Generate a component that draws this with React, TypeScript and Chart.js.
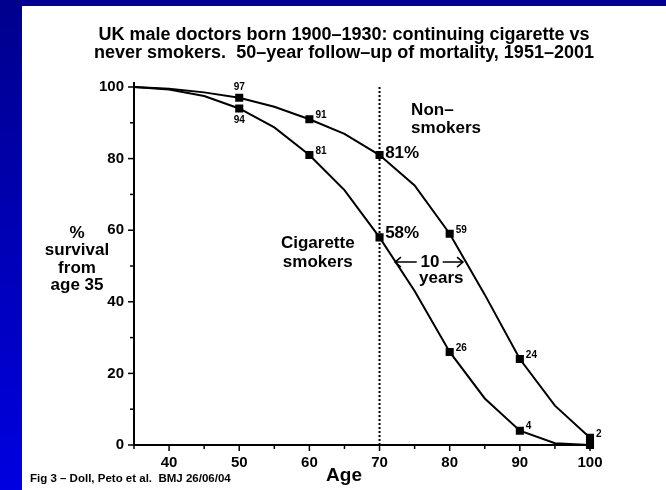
import { useEffect, useRef } from 'react';
import { Chart, registerables } from 'chart.js';

Chart.register(...registerables);

// ---- data ----
const ages = [35, 40, 45, 50, 55, 60, 65, 70, 75, 80, 85, 90, 95, 100];
const nonSmokers = [100, 99.5, 98.5, 97, 94.5, 91, 86.9, 81, 72.5, 59, 42, 24, 11, 2];
const smokers = [100, 99.3, 97.5, 94, 88.7, 81, 71.2, 58, 43, 26, 13, 4, 0.5, 0];
const nonSmokerLabels = ['', '', '', '97', '', '91', '', '', '', '59', '', '24', '', '2'];
const smokerLabels = ['', '', '', '94', '', '81', '', '', '', '26', '', '4', '', ''];
const markedAges = [50, 60, 70, 80, 90, 100];
const xTickValues = [40, 50, 60, 70, 80, 90, 100];
const yTickValues = [0, 20, 40, 60, 80, 100];
const referenceAge = 70;

const titleLines = [
  'UK male doctors born 1900\u20131930: continuing cigarette vs',
  'never smokers.  50\u2013year follow\u2013up of mortality, 1951\u20132001',
];
const yTitleLines = ['%', 'survival', 'from', 'age 35'];
const xTitle = 'Age';
const footnote = 'Fig 3 \u2013 Doll, Peto et al.  BMJ 26/06/04';

const FONT = '"Liberation Sans", Arial, Helvetica, sans-serif';

const annotations = [
  { text: 'Non\u2013', x: 74.5, y: 93.6, align: 'left' },
  { text: 'smokers', x: 74.5, y: 88.5, align: 'left' },
  { text: 'Cigarette', x: 61.2, y: 56.4, align: 'center' },
  { text: 'smokers', x: 61.2, y: 51.1, align: 'center' },
  { text: '81%', x: 70.8, y: 81.6, align: 'left' },
  { text: '58%', x: 70.8, y: 59.2, align: 'left' },
  { text: '10', x: 77.2, y: 51.1, align: 'center' },
  { text: 'years', x: 78.8, y: 46.6, align: 'center' },
];

const decorPlugin = {
  id: 'decor',
  beforeDraw(chart: any) {
    const { ctx, width, height } = chart;
    ctx.save();
    ctx.fillStyle = '#ffffff';
    ctx.fillRect(0, 0, width, height);
    ctx.fillStyle = '#00008f';
    ctx.fillRect(0, 0, width, 6);
    const g = ctx.createLinearGradient(0, 0, 0, height);
    g.addColorStop(0, '#00008c');
    g.addColorStop(1, '#0000e0');
    ctx.fillStyle = g;
    ctx.fillRect(0, 0, 22, height);
    ctx.restore();
  },
  beforeDatasetsDraw(chart: any) {
    const { ctx } = chart;
    const xs = chart.scales.x;
    const ys = chart.scales.y;
    ctx.save();
    ctx.strokeStyle = '#000';
    // dotted reference line
    ctx.lineWidth = 2;
    ctx.setLineDash([2, 2]);
    const px = xs.getPixelForValue(referenceAge);
    ctx.beginPath();
    ctx.moveTo(px, ys.getPixelForValue(100));
    ctx.lineTo(px, ys.getPixelForValue(0));
    ctx.stroke();
    ctx.setLineDash([]);
    // tick marks
    ctx.lineWidth = 1.5;
    const left = chart.chartArea.left;
    const bottom = chart.chartArea.bottom;
    for (let v = 0; v <= 100; v += 10) {
      const py = ys.getPixelForValue(v);
      const len = v % 20 === 0 ? 6 : 4;
      ctx.beginPath();
      ctx.moveTo(left - len, py);
      ctx.lineTo(left, py);
      ctx.stroke();
    }
    for (let v = 35; v <= 100; v += 5) {
      const qx = xs.getPixelForValue(v);
      const len = v % 10 === 0 ? 6 : 4;
      ctx.beginPath();
      ctx.moveTo(qx, bottom);
      ctx.lineTo(qx, bottom + len);
      ctx.stroke();
    }
    // small extension of y axis above 100
    ctx.lineWidth = 2;
    ctx.beginPath();
    ctx.moveTo(left, ys.getPixelForValue(100));
    ctx.lineTo(left, ys.getPixelForValue(100) - 5);
    ctx.stroke();
    ctx.restore();
  },
  afterDatasetsDraw(chart: any) {
    const { ctx } = chart;
    ctx.save();
    ctx.fillStyle = '#000';
    ctx.font = `bold 10px ${FONT}`;
    const sets = [nonSmokerLabels, smokerLabels];
    sets.forEach((labels, di) => {
      const meta = chart.getDatasetMeta(di);
      meta.data.forEach((pt: any, i: number) => {
        const t = labels[i];
        if (!t) return;
        if (ages[i] === 50) {
          ctx.textAlign = 'center';
          ctx.textBaseline = 'middle';
          ctx.fillText(t, pt.x, di === 0 ? pt.y - 10 : pt.y + 11.5);
        } else {
          ctx.textAlign = 'left';
          ctx.textBaseline = 'middle';
          ctx.fillText(t, pt.x + 6, pt.y - 4);
        }
      });
    });
    ctx.restore();
  },
  afterDraw(chart: any) {
    const { ctx } = chart;
    const xs = chart.scales.x;
    const ys = chart.scales.y;
    ctx.save();
    ctx.fillStyle = '#000';
    ctx.strokeStyle = '#000';
    ctx.textBaseline = 'middle';
    // title
    ctx.font = `bold 18px ${FONT}`;
    ctx.textAlign = 'center';
    titleLines.forEach((l, i) => ctx.fillText(l, 344, 35 + i * 18.5));
    // y title
    ctx.font = `bold 17px ${FONT}`;
    const yTitleY = [233, 250, 268, 285];
    yTitleLines.forEach((l, i) => ctx.fillText(l, 77, yTitleY[i]));
    // x title
    ctx.font = `bold 19px ${FONT}`;
    ctx.fillText(xTitle, 344, 476);
    // footnote
    ctx.font = `bold 11.5px ${FONT}`;
    ctx.textAlign = 'left';
    ctx.fillText(footnote, 30, 479);
    // annotations
    ctx.font = `bold 17px ${FONT}`;
    annotations.forEach((a) => {
      ctx.textAlign = a.align;
      ctx.fillText(a.text, xs.getPixelForValue(a.x), ys.getPixelForValue(a.y));
    });
    // 10-year arrows
    const ay = ys.getPixelForValue(51.1);
    const l1 = xs.getPixelForValue(72.2);
    const l2 = xs.getPixelForValue(75.3);
    const r1 = xs.getPixelForValue(79.0);
    const r2 = xs.getPixelForValue(81.9);
    ctx.lineWidth = 1.5;
    ctx.beginPath();
    ctx.moveTo(l1, ay);
    ctx.lineTo(l2, ay);
    ctx.moveTo(l1 + 6, ay - 5);
    ctx.lineTo(l1, ay);
    ctx.lineTo(l1 + 6, ay + 5);
    ctx.moveTo(r1, ay);
    ctx.lineTo(r2, ay);
    ctx.moveTo(r2 - 6, ay - 5);
    ctx.lineTo(r2, ay);
    ctx.lineTo(r2 - 6, ay + 5);
    ctx.stroke();
    ctx.restore();
  },
};

export default function App() {
  const ref = useRef<HTMLCanvasElement | null>(null);
  useEffect(() => {
    if (!ref.current) return;
    const radius = (a: number) => (markedAges.includes(a) ? 4.3 : 0);
    const chart = new Chart(ref.current, {
      type: 'line',
      data: {
        datasets: [
          {
            label: 'Non-smokers',
            data: ages.map((a, i) => ({ x: a, y: nonSmokers[i] })),
            borderColor: '#000',
            backgroundColor: '#000',
            borderWidth: 2,
            pointStyle: 'rect',
            pointRadius: ages.map(radius),
            pointBackgroundColor: '#000',
            pointBorderColor: '#000',
            tension: 0,
            clip: false,
          },
          {
            label: 'Cigarette smokers',
            data: ages.map((a, i) => ({ x: a, y: smokers[i] })),
            borderColor: '#000',
            backgroundColor: '#000',
            borderWidth: 2,
            pointStyle: 'rect',
            pointRadius: ages.map(radius),
            pointBackgroundColor: '#000',
            pointBorderColor: '#000',
            tension: 0,
            clip: false,
          },
        ],
      },
      options: {
        animation: false,
        responsive: false,
        devicePixelRatio: 1,
        layout: { padding: { left: 22, top: 87, right: 76, bottom: 0 } },
        plugins: { legend: { display: false }, tooltip: { enabled: false }, title: { display: false } },
        scales: {
          x: {
            type: 'linear',
            min: 35,
            max: 100,
            afterBuildTicks: (s: any) => {
              s.ticks = xTickValues.map((v) => ({ value: v }));
            },
            afterFit: (s: any) => {
              s.height = 45;
            },
            grid: { display: false },
            border: { display: true, color: '#000', width: 2 },
            ticks: {
              color: '#000',
              font: { family: FONT, size: 15, weight: 'bold' },
              padding: 1,
              maxRotation: 0,
              autoSkip: false,
            },
          },
          y: {
            type: 'linear',
            min: 0,
            max: 100,
            afterBuildTicks: (s: any) => {
              s.ticks = yTickValues.map((v) => ({ value: v }));
            },
            afterFit: (s: any) => {
              s.width = 112;
            },
            grid: { display: false },
            border: { display: true, color: '#000', width: 2 },
            ticks: {
              color: '#000',
              font: { family: FONT, size: 15, weight: 'bold' },
              padding: 2,
              autoSkip: false,
            },
          },
        },
      },
      plugins: [decorPlugin],
    } as any);
    return () => chart.destroy();
  }, []);
  return (
    <div style={{ position: 'absolute', left: 0, top: 0, width: 666, height: 490 }}>
      <canvas ref={ref} width={666} height={490} style={{ display: 'block' }} />
    </div>
  );
}
